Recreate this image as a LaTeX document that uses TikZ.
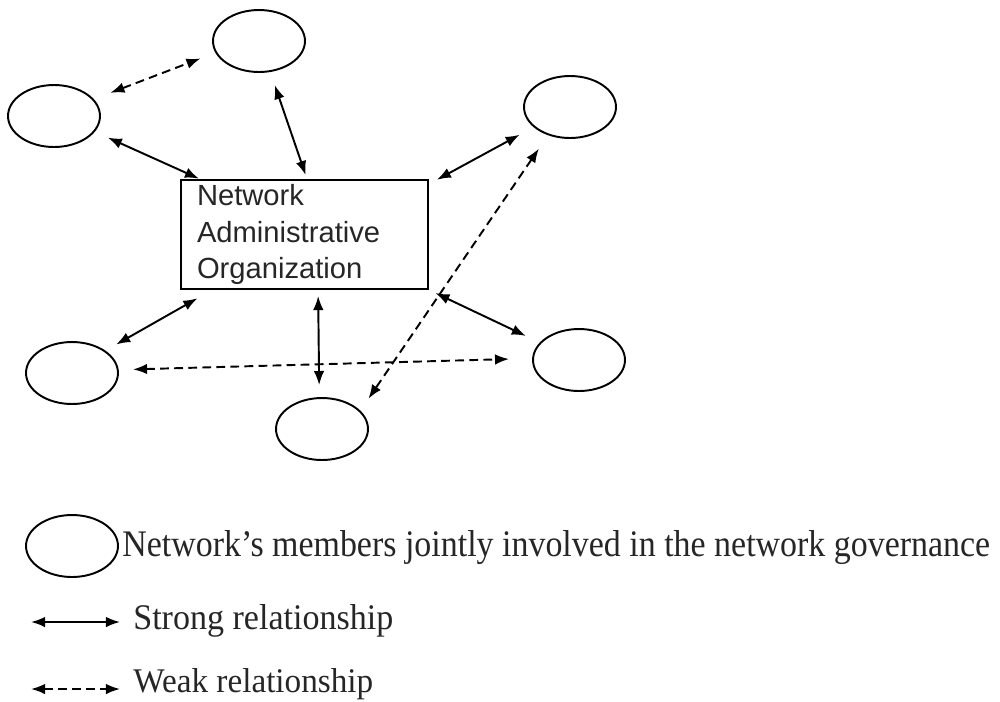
\documentclass[tikz,border=0pt]{standalone}
\usepackage{fontspec}
\setmainfont{Liberation Serif}
\newfontfamily\boxfont{Liberation Sans}
\usepackage{graphicx}
\usetikzlibrary{arrows.meta,shapes.geometric}
\begin{document}
\begin{tikzpicture}[x=0.02cm,y=-0.02cm,
  member/.style={draw, ellipse, minimum width=1.84cm, minimum height=1.24cm, inner sep=0pt, outer sep=0pt, line width=1.1pt},
  strong/.style={{Latex[length=8pt,width=6pt]}-{Latex[length=8pt,width=6pt]}, line width=1.1pt},
  weak/.style={strong, dash pattern=on 5pt off 3pt},
  nao/.style={draw, line width=1pt, minimum width=4.94cm, minimum height=2.18cm, text width=4.3cm, inner xsep=0.32cm, inner ysep=0pt, outer sep=0pt, align=left, text=black!85, font=\boxfont\fontsize{16.6}{20.6}\selectfont},
  legtext/.style={anchor=base west, inner sep=0pt, text=black!85, font=\fontsize{19}{22}\selectfont}]
\useasboundingbox (0,0) rectangle (1000,701);

% network members
\node[member] (tc) at (259,41) {};
\node[member] (lt) at (54,116) {};
\node[member] (rt) at (570,107) {};
\node[member] (lb) at (72,373) {};
\node[member] (bc) at (322,429) {};
\node[member] (rb) at (579,360) {};

% NAO box
\node[nao] (box) at (304.5,234.5) {Network\\Administrative\\Organization};

% connectors
\draw[weak,   shorten <=0.374cm, shorten >=0.338cm] (lt.23)  -- (tc.195);
\draw[strong, shorten <=0.304cm, shorten >=0.066cm] (lt.-21) -- (box.152);
\draw[strong, shorten <=0.296cm, shorten >=0.106cm] (tc.-70) -- (box.87.7);
\draw[strong, shorten <=0.336cm, shorten >=0.204cm] (rt.209.25) -- (box.22.8);
\draw[weak,   shorten <=0.344cm, shorten >=0.306cm] (rt.232) -- (bc.25.2);
\draw[strong, shorten <=0.378cm, shorten >=0.268cm] (box.211.2) -- (lb.34.9);
\draw[strong, shorten <=0.14cm,  shorten >=0.26cm]  (box.-76.1) -- (bc.95.2);
\draw[strong, shorten <=0.188cm, shorten >=0.328cm] (box.-24.6) -- (rb.156.9);
\draw[weak,   shorten <=0.306cm, shorten >=0.48cm]  (lb.4.7) -- (rb.178.3);

% legend
\node[member] (lg) at (72,546) {};
\node[legtext] (lgt) at (122,556) {\resizebox{17.36cm}{0.52cm}{Network's members jointly involved in the network governance}};
\coordinate (s1) at (31,622);
\coordinate (s2) at (120,622);
\draw[strong] (s1) -- (s2);
\node[legtext] (st) at (133,629) {\resizebox{5.2cm}{0.5cm}{Strong relationship}};
\coordinate (w1) at (31,689);
\coordinate (w2) at (120,689);
\draw[weak] (w1) -- (w2);
\node[legtext] (wt) at (133,692) {\resizebox{4.8cm}{0.48cm}{Weak relationship}};
\end{tikzpicture}
\end{document}
